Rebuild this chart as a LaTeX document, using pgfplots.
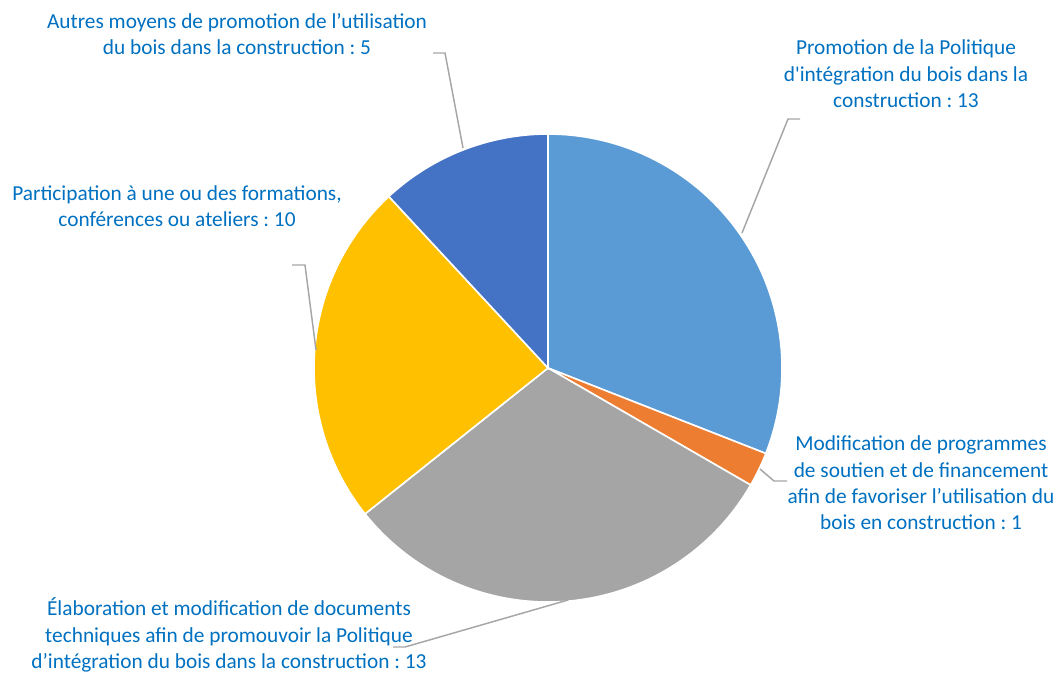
\documentclass[border=0pt]{standalone}
\usepackage{fontspec}
\setmainfont{Carlito}
\usepackage{pgfplots}
\usepackage{pgfplotstable}
\pgfplotsset{compat=1.18}
\frenchspacing
\definecolor{c1}{HTML}{5B9BD5}
\definecolor{c2}{HTML}{ED7D31}
\definecolor{c3}{HTML}{A5A5A5}
\definecolor{c4}{HTML}{FFC000}
\definecolor{c5}{HTML}{4472C4}
\definecolor{lbl}{HTML}{0070C0}
\definecolor{lead}{HTML}{A6A6A6}
\tikzset{lab/.style={text=lbl, align=center, inner sep=0pt, font=\fontsize{16}{19.8}\selectfont\frenchspacing}}
\pgfplotstableread{
idx value color
0 13 c1
1 1 c2
2 13 c3
3 10 c4
4 5 c5
}\piedata
\begin{document}
\begin{tikzpicture}
\begin{axis}[
  scale only axis, width=796.5pt, height=504pt,
  xmin=0, xmax=1062, ymin=0, ymax=672, y dir=reverse,
  hide axis, clip=false,
]
% total
\def\total{0}
\pgfplotsforeachungrouped \i in {0,...,4}{%
  \pgfplotstablegetelem{\i}{value}\of\piedata
  \pgfmathsetmacro\total{\total+\pgfplotsretval}%
}
\def\cum{0}
\pgfplotsforeachungrouped \i in {0,...,4}{%
  \pgfplotstablegetelem{\i}{value}\of\piedata \let\v\pgfplotsretval
  \pgfplotstablegetelem{\i}{color}\of\piedata \let\c\pgfplotsretval
  \pgfmathsetmacro\a{90-\cum*360/\total}%
  \pgfmathsetmacro\b{90-(\cum+\v)*360/\total}%
  \edef\temp{\noexpand\addplot[fill=\c, draw=white, line width=1.2pt, domain=\b:\a, samples=80, variable=\noexpand\t]
    ({548+234*cos(\noexpand\t)},{368-234*sin(\noexpand\t)}) -- (axis cs:548,368) -- cycle;}%
  \temp
  \pgfmathsetmacro\cum{\cum+\v}%
}
% leader lines
\addplot[lead, line width=1.1pt] coordinates {(800,119) (788,119) (742,233)};
\addplot[lead, line width=1.1pt] coordinates {(760,469) (774,481) (787,481)};
\addplot[lead, line width=1.1pt] coordinates {(568,600) (405,647) (393,647)};
\addplot[lead, line width=1.1pt] coordinates {(292,265) (305,265) (316,350)};
\addplot[lead, line width=1.1pt] coordinates {(433,53) (445,53) (463,148)};
% labels
\node[lab] at (axis cs:906,74) {Promotion de la Politique\\d\textquotesingle intégration du bois dans la\\construction : 13};
\node[lab] at (axis cs:921,483) {Modification de programmes\\de soutien et de financement\\afin de favoriser l’utilisation du\\bois en construction : 1};
\node[lab] at (axis cs:229,635) {Élaboration et modification de documents\\techniques afin de promouvoir la Politique\\d’intégration du bois dans la construction : 13};
\node[lab] at (axis cs:177,206) {Participation à une ou des formations,\\conférences ou ateliers : 10};
\node[lab] at (axis cs:237,34) {Autres moyens de promotion de l’utilisation\\du bois dans la construction : 5};
\end{axis}
\pgfresetboundingbox
\path (current axis.south west) rectangle (current axis.north east);
\end{tikzpicture}
\end{document}
